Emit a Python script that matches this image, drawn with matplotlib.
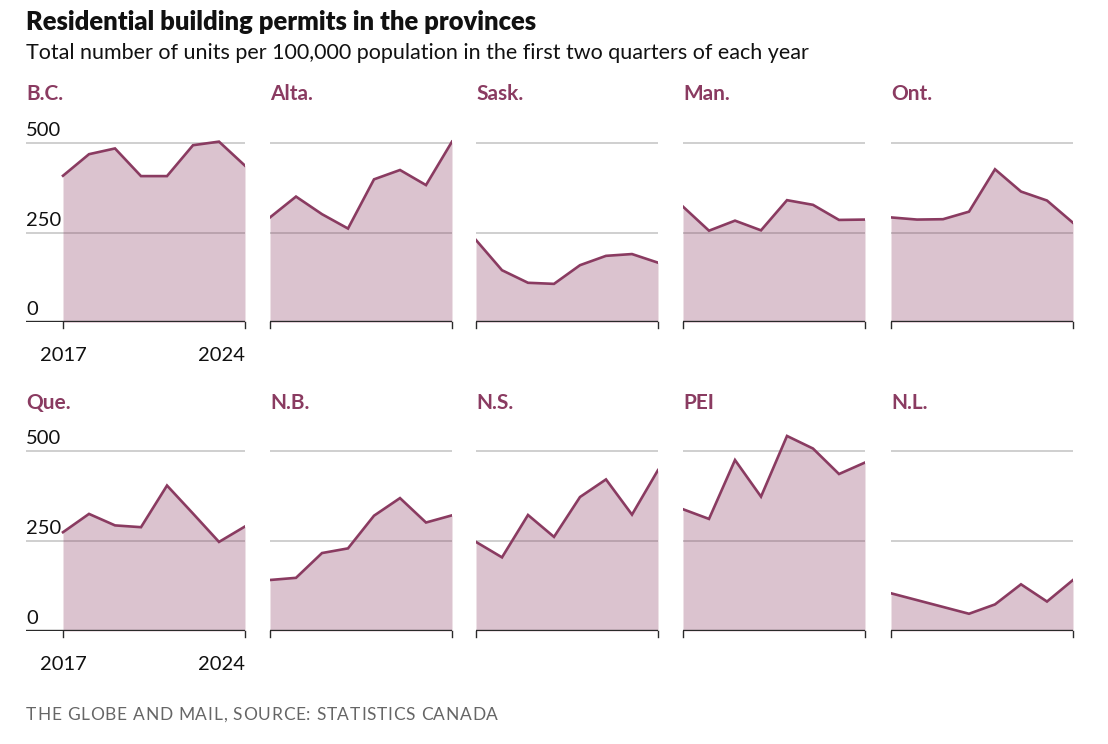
import matplotlib
matplotlib.use("Agg")
import matplotlib.pyplot as plt
from matplotlib.font_manager import FontProperties
from matplotlib.textpath import text_to_path

W, H = 1108, 744

years = [2017, 2018, 2019, 2020, 2021, 2022, 2023, 2024]
provinces = ["B.C.", "Alta.", "Sask.", "Man.", "Ont.",
             "Que.", "N.B.", "N.S.", "PEI", "N.L."]

bc = [408, 468, 484, 407, 407, 493, 503, 436]
alta = [292, 350, 301, 261, 398, 424, 382, 503]
sask = [229, 145, 110, 107, 159, 185, 190, 166]
man = [322, 255, 283, 256, 340, 327, 285, 286]
ont = [292, 286, 287, 308, 426, 364, 339, 277]
que = [275, 326, 294, 289, 405, 327, 248, 291]
nb = [142, 148, 217, 230, 321, 370, 302, 322]
ns = [248, 205, 323, 262, 373, 422, 324, 448]
pei = [339, 312, 476, 374, 543, 508, 437, 469]
nl = [105, 86, 67, 48, 74, 130, 82, 142]

series = [bc, alta, sask, man, ont, que, nb, ns, pei, nl]
y_ticks = [0, 250, 500]
y_tick_labels = ["0", "250", "500"]
x_tick_labels = ["2017", "2024"]

LINE = "#8a3b61"
GRID = "#cccccc"
TEXT = "#111111"
BASE = "#2a2a2a"

fig = plt.figure(figsize=(W / 100, H / 100), dpi=100)
fig.patch.set_facecolor("white")

col_x = [63, 270, 476, 683, 891]
panel_w = 182
row_zero = [322.3, 631.0]
px_per_unit = 179.6 / 500
ymax = 560
left_ext = 26  # left edge of first column axis


def add_axes_px(x0, x1, yzero, ytop):
    return fig.add_axes([x0 / W, 1 - yzero / H, (x1 - x0) / W, (yzero - ytop) / H])


for i, (name, vals) in enumerate(zip(provinces, series)):
    r, c = divmod(i, 5)
    x_data0 = col_x[c]
    x_data1 = x_data0 + panel_w
    yz = row_zero[r]
    yt = yz - ymax * px_per_unit
    x0 = left_ext if c == 0 else x_data0
    ax = add_axes_px(x0, x_data1, yz, yt)
    yr_px = panel_w / (years[-1] - years[0])
    xmin = years[0] - (x_data0 - x0) / yr_px
    ax.set_xlim(xmin, years[-1])
    ax.set_ylim(0, ymax)
    ax.axis("off")

    for yv in y_ticks[1:]:
        ax.axhline(yv, color=GRID, lw=1.3, zorder=1)
    ax.fill_between(years, vals, 0, color=LINE, alpha=0.3, lw=0, zorder=2)
    ax.plot(years, vals, color=LINE, lw=1.9, zorder=3, solid_joinstyle="miter")
    ax.axhline(0, color=BASE, lw=1.7, zorder=4)
    for xv in (years[0], years[-1]):
        ax.plot([xv, xv], [0, -6 / px_per_unit], color=BASE, lw=1.0,
                clip_on=False, zorder=4)

    # panel title
    fig.text(x0 / W, 1 - (94 + r * 309) / H, name, color=LINE, fontsize=15,
             fontweight="bold", family="Lato", va="center", ha="left")

    if c == 0:
        for yv, lab in zip(y_ticks, y_tick_labels):
            ax.text(xmin, yv + 4 / px_per_unit, lab, fontsize=14.5, family="Lato",
                    color=TEXT, ha="left", va="bottom")
        ylab = yz + 33
        fig.text(x_data0 / W, 1 - ylab / H, x_tick_labels[0], fontsize=14.5,
                 family="Lato", color=TEXT, ha="center", va="center")
        fig.text(x_data1 / W, 1 - ylab / H, x_tick_labels[1], fontsize=14.5,
                 family="Lato", color=TEXT, ha="right", va="center")

fig.text(26 / W, 1 - 22 / H, "Residential building permits in the provinces",
         fontsize=18.4, fontweight="heavy", family="Lato", color=TEXT,
         ha="left", va="center")
fig.text(26 / W, 1 - 53 / H,
         "Total number of units per 100,000 population in the first two quarters of each year",
         fontsize=15.5, family="Lato", color=TEXT, ha="left", va="center")


def tracked_text(x_px, y_px, s, size_pt, tracking_px, **kw):
    fp = FontProperties(family="Lato", size=size_pt)
    scale = 100 / 72.0
    for k, ch in enumerate(s):
        if ch == " ":
            continue
        w, _, _ = text_to_path.get_text_width_height_descent(s[:k], fp, ismath=False) if k else (0, 0, 0)
        xx = x_px + w * scale + k * tracking_px
        fig.text(xx / W, 1 - y_px / H, ch, fontproperties=fp, ha="left",
                 va="center", **kw)


tracked_text(26, 715, "THE GLOBE AND MAIL, SOURCE: STATISTICS CANADA", 12.5, 0.75,
             color="#666666")

fig.savefig("out.png", dpi=100)
